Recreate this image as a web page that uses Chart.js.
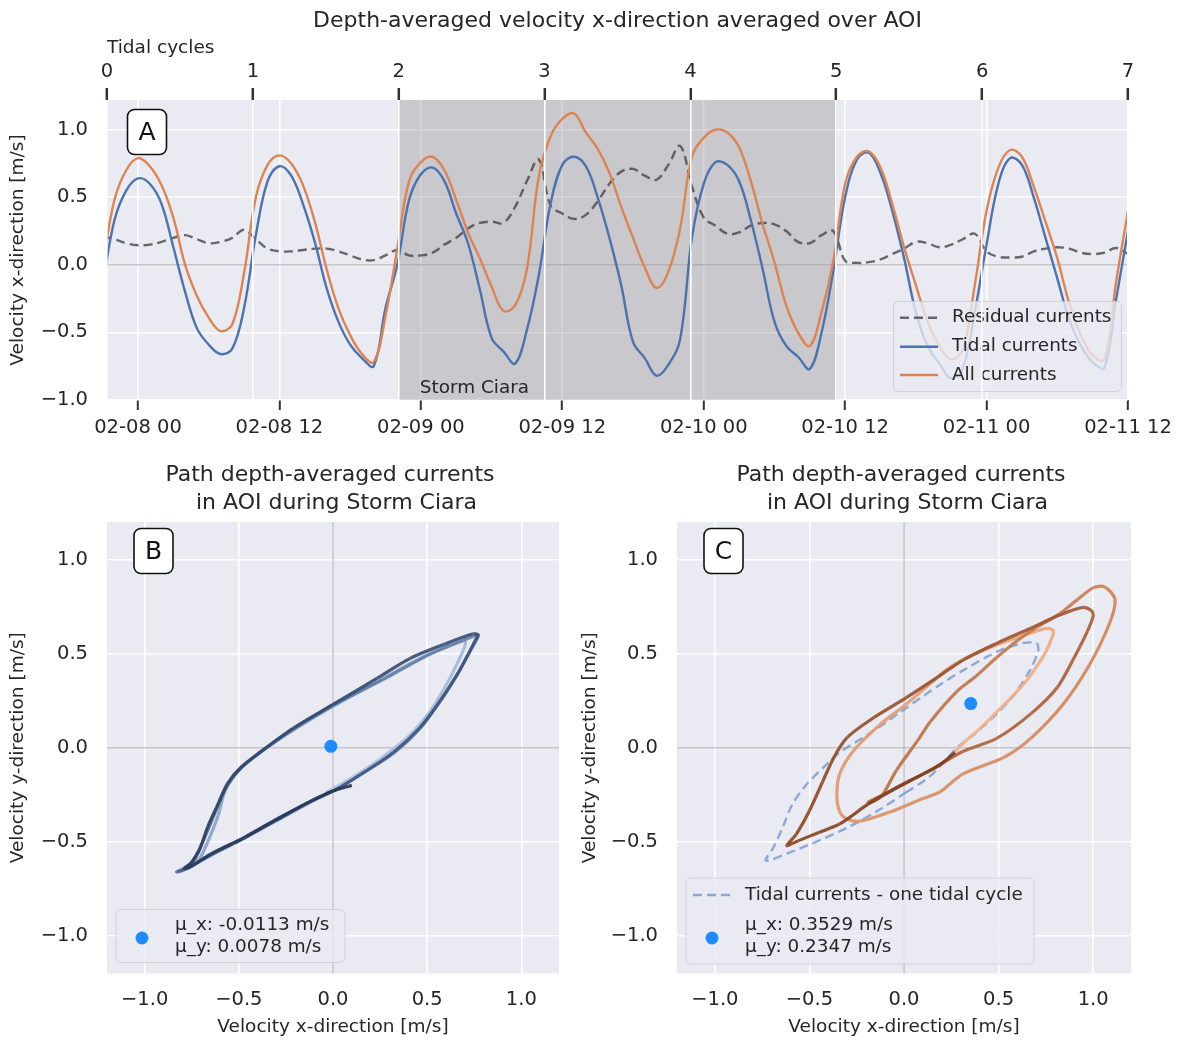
<!DOCTYPE html>
<html>
<head>
<meta charset="utf-8">
<script src="https://cdn.jsdelivr.net/npm/chart.js@4.4.0/dist/chart.umd.min.js"></script>
<style>
  html, body { margin: 0; padding: 0; background: #fff; }
  body { width: 1185px; height: 1041px; position: relative; overflow: hidden; }
  canvas { position: absolute; }
</style>
</head>
<body>
<canvas id="chartA" width="1185" height="445" style="left:0px;top:0px"></canvas>
<canvas id="chartB" width="590" height="591" style="left:0px;top:450px"></canvas>
<canvas id="chartC" width="615" height="591" style="left:570px;top:450px"></canvas>
<script>
// ---- panel A: hours since 02-08 00, one value per hour ----
const hours = [-3, -2, -1, 0, 1, 2, 3, 4, 5, 6, 7, 8, 9, 10, 11, 12, 13, 14, 15, 16, 17, 18, 19, 20,
  21, 22, 23, 24, 25, 26, 27, 28, 29, 30, 31, 32, 33, 34, 35, 36, 37, 38, 39, 40, 41, 42, 43, 44,
  45, 46, 47, 48, 49, 50, 51, 52, 53, 54, 55, 56, 57, 58, 59, 60, 61, 62, 63, 64, 65, 66, 67, 68,
  69, 70, 71, 72, 73, 74, 75, 76, 77, 78, 79, 80, 81, 82, 83, 84];

const tidal = [-0.15, 0.33, 0.55, 0.64, 0.60, 0.45, 0.13, -0.20, -0.47, -0.59, -0.66, -0.62, -0.32, 0.22,
  0.62, 0.73, 0.66, 0.45, 0.17, -0.17, -0.42, -0.59, -0.69, -0.75, -0.32, 0.00, 0.48, 0.67, 0.72, 0.62,
  0.38, 0.16, -0.18, -0.54, -0.64, -0.73, -0.48, -0.08, 0.45, 0.74, 0.80, 0.73, 0.50, 0.20, -0.15, -0.57,
  -0.69, -0.82, -0.74, -0.55, 0.20, 0.60, 0.76, 0.74, 0.62, 0.33, -0.03, -0.42, -0.60, -0.68, -0.77, -0.50,
  -0.04, 0.50, 0.78, 0.83, 0.68, 0.40, 0.05, -0.35, -0.60, -0.73, -0.84, -0.76, -0.35, 0.15, 0.60, 0.79,
  0.74, 0.50, 0.20, -0.10, -0.40, -0.60, -0.72, -0.76, -0.25, 0.25];

const allCurrents = [0.00, 0.48, 0.70, 0.79, 0.73, 0.59, 0.35, 0.00, -0.23, -0.39, -0.49, -0.44, -0.06, 0.50,
  0.74, 0.81, 0.75, 0.59, 0.32, -0.03, -0.32, -0.52, -0.66, -0.72, -0.38, 0.12, 0.62, 0.76, 0.80, 0.70,
  0.48, 0.24, 0.05, -0.16, -0.34, -0.30, -0.03, 0.65, 0.95, 1.08, 1.12, 0.98, 0.86, 0.68, 0.43, 0.20,
  -0.02, -0.17, -0.05, 0.27, 0.80, 0.94, 1.00, 0.98, 0.87, 0.62, 0.30, 0.02, -0.30, -0.50, -0.60, -0.35,
  0.03, 0.60, 0.80, 0.84, 0.72, 0.45, 0.13, -0.15, -0.42, -0.60, -0.70, -0.62, -0.15, 0.40, 0.72, 0.85,
  0.80, 0.58, 0.32, 0.05, -0.28, -0.52, -0.67, -0.70, -0.12, 0.40];

const residual = [0.21, 0.19, 0.16, 0.145, 0.15, 0.17, 0.20, 0.22, 0.19, 0.16, 0.17, 0.20, 0.26, 0.19,
  0.12, 0.10, 0.10, 0.11, 0.12, 0.12, 0.10, 0.07, 0.04, 0.035, 0.07, 0.11, 0.07, 0.07, 0.09, 0.15,
  0.20, 0.27, 0.31, 0.32, 0.31, 0.43, 0.62, 0.78, 0.44, 0.38, 0.34, 0.37, 0.47, 0.60, 0.69, 0.71,
  0.66, 0.63, 0.74, 0.88, 0.58, 0.35, 0.29, 0.23, 0.24, 0.29, 0.31, 0.30, 0.25, 0.17, 0.16, 0.22,
  0.25, 0.03, 0.015, 0.02, 0.04, 0.08, 0.12, 0.17, 0.16, 0.13, 0.15, 0.19, 0.23, 0.10, 0.06, 0.055,
  0.06, 0.10, 0.12, 0.13, 0.12, 0.09, 0.08, 0.09, 0.125, 0.08];

const dateTicks = [0, 12, 24, 36, 48, 60, 72, 84];
const stormCycles = [2, 5];
const seriesNames = ['Residual currents', 'Tidal currents', 'All currents'];

// ---- panel B: tidal current path during the storm (x = u, y = v) ----
const bPathX = [-0.04, 0.10, 0.25, 0.40, 0.52, 0.61, 0.67, 0.70, 0.70, 0.63, 0.45, 0.25, 0.00, -0.20, -0.38,
  -0.50, -0.57, -0.61, -0.665, -0.71, -0.76, -0.70, -0.55, -0.40, -0.25, -0.10,
  0.02, 0.15, 0.32, 0.46, 0.57, 0.66, 0.72, 0.76, 0.77, 0.69, 0.50, 0.28, 0.00, -0.20, -0.38, -0.49, -0.56,
  -0.62, -0.67, -0.72, -0.77, -0.83, -0.78, -0.65, -0.47, -0.30, -0.12,
  0.02, 0.15, 0.32, 0.46, 0.57, 0.66, 0.72, 0.755, 0.77, 0.74, 0.59, 0.41, 0.235, 0.00, -0.21, -0.38, -0.49,
  -0.56, -0.62, -0.665, -0.71, -0.75, -0.79, -0.76, -0.65, -0.47, -0.30, -0.12, 0.00, 0.10];
const bPathY = [-0.24, -0.16, -0.06, 0.06, 0.20, 0.35, 0.47, 0.54, 0.57, 0.55, 0.47, 0.36, 0.22, 0.10, -0.02,
  -0.12, -0.22, -0.36, -0.50, -0.59, -0.63, -0.60, -0.52, -0.44, -0.36, -0.28,
  -0.22, -0.14, -0.03, 0.10, 0.25, 0.39, 0.50, 0.57, 0.60, 0.57, 0.49, 0.37, 0.225, 0.105, -0.02, -0.11, -0.20,
  -0.33, -0.45, -0.56, -0.63, -0.66, -0.645, -0.57, -0.48, -0.385, -0.285,
  -0.22, -0.14, -0.025, 0.105, 0.25, 0.39, 0.50, 0.57, 0.60, 0.605, 0.55, 0.475, 0.37, 0.23, 0.105, -0.018, -0.105,
  -0.19, -0.32, -0.42, -0.545, -0.61, -0.64, -0.635, -0.565, -0.476, -0.38, -0.285, -0.23, -0.20];
const bMean = [-0.0113, 0.0078];

// ---- panel C: all-current path during the storm, plus one tidal cycle ----
const cPathX = [0.27, 0.33, 0.40, 0.49, 0.58, 0.65, 0.70, 0.75, 0.78, 0.79, 0.76, 0.70, 0.58, 0.40, 0.23, 0.15,
  0.01, -0.13, -0.27, -0.34, -0.355, -0.34, -0.30, -0.23, -0.07, 0.10, 0.19, 0.31, 0.53, 0.67, 0.84, 0.98,
  1.09, 1.115, 1.06, 1.00, 0.92, 0.82, 0.70, 0.60, 0.49, 0.38, 0.28, 0.14, 0.07, -0.04, -0.11, -0.15, -0.19,
  -0.10, 0.00, 0.14, 0.31, 0.49, 0.67, 0.81, 0.90, 0.97, 1.00, 0.99, 0.94, 0.81, 0.67, 0.49, 0.31, 0.17,
  0.01, -0.16, -0.30, -0.37, -0.43, -0.50, -0.57, -0.62, -0.56, -0.45, -0.34, -0.19, -0.07, 0.10, 0.19, 0.27];
const cPathY = [-0.02, 0.04, 0.10, 0.19, 0.28, 0.36, 0.43, 0.51, 0.58, 0.62, 0.635, 0.62, 0.58, 0.51, 0.42, 0.35,
  0.23, 0.12, -0.02, -0.14, -0.25, -0.34, -0.38, -0.39, -0.34, -0.27, -0.235, -0.14, -0.05, 0.05, 0.23, 0.44,
  0.67, 0.79, 0.855, 0.85, 0.79, 0.71, 0.64, 0.57, 0.48, 0.38, 0.30, 0.14, 0.035, -0.12, -0.245, -0.28, -0.29,
  -0.245, -0.19, -0.12, -0.02, 0.05, 0.18, 0.32, 0.48, 0.62, 0.70, 0.73, 0.745, 0.70, 0.635, 0.555, 0.465, 0.37,
  0.265, 0.16, 0.055, -0.05, -0.18, -0.335, -0.46, -0.52, -0.495, -0.45, -0.405, -0.30, -0.23, -0.14, -0.09, -0.025];
const cTideX = [0.01, 0.14, 0.28, 0.37, 0.49, 0.58, 0.67, 0.71, 0.70, 0.63, 0.49, 0.31, 0.19, 0.01, -0.16,
  -0.34, -0.41, -0.515, -0.59, -0.64, -0.69, -0.73, -0.60, -0.43, -0.29, -0.13, 0.01];
const cTideY = [-0.238, -0.15, 0.00, 0.07, 0.18, 0.28, 0.42, 0.52, 0.556, 0.556, 0.51, 0.41, 0.335, 0.21, 0.09,
  -0.025, -0.09, -0.195, -0.30, -0.42, -0.53, -0.60, -0.555, -0.485, -0.42, -0.33, -0.238];
const cMean = [0.3529, 0.2347];

// ---- styling ----
const FONT = '"DejaVu Sans", sans-serif';
const TEXT = '#262626';
const PLOT_BG = '#EAEAF2';
const BLUE = '#4C72B0';
const ORANGE = '#DD8452';
const RESID = 'rgba(70,70,70,0.8)';
const MEAN_DOT = '#1E8CFF';
const TIDE_DASH = 'rgba(110,145,205,0.75)';
const blueStops = [[172, 194, 226], [112, 142, 186], [62, 86, 126], [34, 50, 80]];
const brownStops = [[243, 180, 142], [216, 138, 94], [172, 98, 58], [122, 58, 24]];

Chart.defaults.font.family = FONT;
Chart.defaults.color = TEXT;

function fmtNum(v) {
  const s = Math.abs(v).toFixed(1);
  return v < -1e-9 ? '\u2212' + s : s;
}
function fmtDate(v) {
  const day = 8 + Math.floor(v / 24);
  const hh = v - (day - 8) * 24;
  return '02-' + String(day).padStart(2, '0') + ' ' + String(hh).padStart(2, '0');
}
function gradColor(stops, t, a) {
  t = Math.max(0, Math.min(1, t));
  const seg = t * (stops.length - 1);
  const i = Math.min(Math.floor(seg), stops.length - 2);
  const f = seg - i;
  const c = stops[i].map((v, k) => Math.round(v + (stops[i + 1][k] - v) * f));
  return 'rgba(' + c[0] + ',' + c[1] + ',' + c[2] + ',' + a + ')';
}
function pairs(xs, ys) {
  return xs.map((x, i) => ({ x: x, y: ys[i] }));
}
function roundBox(ctx, x, y, w, h, r, fill, stroke, lw) {
  ctx.beginPath();
  ctx.roundRect(x, y, w, h, r);
  if (fill) { ctx.fillStyle = fill; ctx.fill(); }
  if (stroke) { ctx.strokeStyle = stroke; ctx.lineWidth = lw; ctx.stroke(); }
}
function text(ctx, s, x, y, size, align) {
  ctx.font = size + 'px ' + FONT;
  ctx.fillStyle = TEXT;
  ctx.textAlign = align || 'left';
  ctx.textBaseline = 'middle';
  ctx.fillText(s, x, y);
}
function letterBox(ctx, letter, x, y) {
  roundBox(ctx, x, y, 39, 45, 7, '#ffffff', '#111111', 1.6);
  ctx.font = '25px ' + FONT;
  ctx.fillStyle = '#111111';
  ctx.textAlign = 'center';
  ctx.textBaseline = 'middle';
  ctx.fillText(letter, x + 19.5, y + 23.5);
}
function legendBox(ctx, x, y, w, h) {
  roundBox(ctx, x, y, w, h, 5, 'rgba(234,234,242,0.8)', 'rgba(204,204,204,0.8)', 1);
}
function plotBackground(chart) {
  const a = chart.chartArea;
  const ctx = chart.ctx;
  ctx.save();
  ctx.fillStyle = PLOT_BG;
  ctx.fillRect(a.left, a.top, a.right - a.left, a.bottom - a.top);
  ctx.restore();
}
function zeroLine(ctx, x0, y0, x1, y1) {
  ctx.beginPath();
  ctx.moveTo(x0, y0);
  ctx.lineTo(x1, y1);
  ctx.strokeStyle = 'rgba(150,150,150,0.55)';
  ctx.lineWidth = 1.5;
  ctx.stroke();
}

const tickFont = { family: FONT, size: 19.5 };
const titleFont = { family: FONT, size: 18.5 };

// ---------------- Panel A ----------------
const decorA = {
  id: 'decorA',
  beforeDraw: plotBackground,
  beforeDatasetsDraw(chart) {
    const ctx = chart.ctx, a = chart.chartArea;
    const x2 = chart.scales.x2, y = chart.scales.y;
    const s0 = x2.getPixelForValue(stormCycles[0]);
    const s1 = x2.getPixelForValue(stormCycles[1]);
    ctx.save();
    ctx.fillStyle = 'rgba(128,128,128,0.32)';
    ctx.fillRect(s0, a.top, s1 - s0, a.bottom - a.top);
    const y0 = y.getPixelForValue(0);
    zeroLine(ctx, a.left, y0, a.right, y0);
    ctx.restore();
  },
  afterDatasetsDraw(chart) {
    const ctx = chart.ctx;
    ctx.save();
    text(ctx, 'Storm Ciara', chart.scales.x.getPixelForValue(24) - 1, 388, 18.4);
    // legend
    legendBox(ctx, 893.5, 301.5, 228, 90);
    const rows = [317.7, 346.7, 375];
    const cols = [RESID, BLUE, ORANGE];
    rows.forEach((ry, i) => {
      ctx.beginPath();
      ctx.setLineDash(i === 0 ? [9, 5] : []);
      ctx.moveTo(900, ry);
      ctx.lineTo(938, ry);
      ctx.strokeStyle = cols[i];
      ctx.lineWidth = 2.4;
      ctx.stroke();
      ctx.setLineDash([]);
      text(ctx, seriesNames[i], 952, ry, 18.4);
    });
    letterBox(ctx, 'A', 127.5, 109.5);
    ctx.restore();
  },
  afterDraw(chart) {
    const ctx = chart.ctx;
    ctx.save();
    text(ctx, 'Depth-averaged velocity x-direction averaged over AOI', 617.5, 21, 22, 'center');
    ctx.restore();
  }
};

const lineTension = 0.38;

new Chart(document.getElementById('chartA'), {
  type: 'line',
  data: {
    labels: hours,
    datasets: [
      { label: seriesNames[0], data: pairs(hours, residual), borderColor: RESID, borderWidth: 2.4,
        borderDash: [9, 5], pointRadius: 0, tension: lineTension, order: 3 },
      { label: seriesNames[1], data: pairs(hours, tidal), borderColor: BLUE, borderWidth: 2.4,
        pointRadius: 0, tension: lineTension, order: 2 },
      { label: seriesNames[2], data: pairs(hours, allCurrents), borderColor: ORANGE, borderWidth: 2.4,
        pointRadius: 0, tension: lineTension, order: 1 }
    ]
  },
  options: {
    responsive: false,
    animation: false,
    events: [],
    layout: { padding: { left: 0, right: 57, top: 0, bottom: 0 } },
    plugins: { legend: { display: false }, tooltip: { enabled: false } },
    scales: {
      x: {
        type: 'linear', position: 'bottom', min: -2.63, max: 84,
        afterBuildTicks: s => { s.ticks = dateTicks.map(v => ({ value: v })); },
        afterFit: s => { s.height = 45; },
        grid: { color: '#ffffff', lineWidth: 1.6, tickLength: 10, tickColor: '#333333', tickWidth: 2 },
        border: { display: false },
        ticks: { font: tickFont, color: TEXT, padding: 6.5, maxRotation: 0, autoSkip: false, callback: fmtDate }
      },
      x2: {
        type: 'linear', position: 'top', min: 0, max: 7,
        afterFit: s => { s.height = 100; },
        grid: { z: 1, color: '#ffffff', lineWidth: 1.6, tickLength: 12, tickColor: '#333333', tickWidth: 2.5 },
        border: { display: false },
        ticks: { stepSize: 1, font: tickFont, color: TEXT, padding: 4.5, maxRotation: 0, autoSkip: false },
        title: { display: true, text: 'Tidal cycles', align: 'start', color: TEXT, font: titleFont,
          padding: { top: 37, bottom: 0 } }
      },
      y: {
        min: -1.0, max: 1.22,
        afterFit: s => { s.width = 107; },
        grid: { color: '#ffffff', lineWidth: 1.6, drawTicks: false },
        border: { display: false },
        ticks: { stepSize: 0.5, includeBounds: false, font: tickFont, color: TEXT, padding: 19, callback: fmtNum },
        title: { display: true, text: 'Velocity x-direction [m/s]', color: TEXT, font: titleFont,
          padding: { top: 7, bottom: 0 } }
      }
    }
  },
  plugins: [decorA]
});

// ---------------- Panels B and C ----------------
function pathScales(yTitlePad) {
  return {
    x: {
      type: 'linear', min: -1.2, max: 1.2,
      afterFit: s => { s.height = 67.5; },
      grid: { color: '#ffffff', lineWidth: 1.6, drawTicks: false },
      border: { display: false },
      ticks: { stepSize: 0.5, includeBounds: false, font: tickFont, color: TEXT, padding: 15, callback: fmtNum },
      title: { display: true, text: 'Velocity x-direction [m/s]', color: TEXT, font: titleFont,
        padding: { top: 0, bottom: 3 } }
    },
    y: {
      type: 'linear', min: -1.2, max: 1.2,
      afterFit: s => { s.width = 107; },
      grid: { color: '#ffffff', lineWidth: 1.6, drawTicks: false },
      border: { display: false },
      ticks: { stepSize: 0.5, includeBounds: false, font: tickFont, color: TEXT, padding: 19, callback: fmtNum },
      title: { display: true, text: 'Velocity y-direction [m/s]', color: TEXT, font: titleFont,
        padding: { top: yTitlePad, bottom: 0 } }
    }
  };
}

function pathDecor(id, letter, legendFn) {
  return {
    id: id,
    beforeDraw: plotBackground,
    beforeDatasetsDraw(chart) {
      const ctx = chart.ctx, a = chart.chartArea;
      const x0 = chart.scales.x.getPixelForValue(0);
      const y0 = chart.scales.y.getPixelForValue(0);
      ctx.save();
      zeroLine(ctx, x0, a.top, x0, a.bottom);
      zeroLine(ctx, a.left, y0, a.right, y0);
      ctx.restore();
    },
    afterDatasetsDraw(chart) {
      const ctx = chart.ctx, a = chart.chartArea;
      ctx.save();
      legendFn(ctx);
      letterBox(ctx, letter, a.left + 27, 78.5);
      ctx.restore();
    },
    afterDraw(chart) {
      const ctx = chart.ctx, a = chart.chartArea;
      const cx = (a.left + a.right) / 2;
      ctx.save();
      text(ctx, 'Path depth-averaged currents', cx - 3, 25, 22, 'center');
      text(ctx, ' in AOI during Storm Ciara', cx, 53, 22, 'center');
      ctx.restore();
    }
  };
}

function meanDataset(mean) {
  return { data: [{ x: mean[0], y: mean[1] }], pointRadius: 6.5, pointHoverRadius: 6.5,
    backgroundColor: MEAN_DOT, borderWidth: 0, showLine: false };
}

function meanLegendRows(ctx, mean) {
  ctx.beginPath();
  ctx.arc(142, 488, 6.5, 0, Math.PI * 2);
  ctx.fillStyle = MEAN_DOT;
  ctx.fill();
  text(ctx, '\u00b5_x: ' + mean[0].toFixed(4) + ' m/s', 175, 475, 18.4);
  text(ctx, '\u00b5_y: ' + mean[1].toFixed(4) + ' m/s', 175, 497, 18.4);
}

new Chart(document.getElementById('chartB'), {
  type: 'scatter',
  data: {
    datasets: [
      meanDataset(bMean),
      { data: pairs(bPathX, bPathY), showLine: true, pointRadius: 0, borderWidth: 3.2, tension: 0.3,
        borderColor: gradColor(blueStops, 0.5, 0.9),
        segment: { borderColor: c => gradColor(blueStops, c.p0DataIndex / (bPathX.length - 1), 0.9) } }
    ]
  },
  options: {
    responsive: false,
    animation: false,
    events: [],
    layout: { padding: { left: 0, right: 31, top: 72, bottom: 0 } },
    plugins: { legend: { display: false }, tooltip: { enabled: false } },
    scales: pathScales(7)
  },
  plugins: [pathDecor('decorB', 'B', ctx => {
    legendBox(ctx, 116, 459.5, 229, 53);
    meanLegendRows(ctx, bMean);
  })]
});

new Chart(document.getElementById('chartC'), {
  type: 'scatter',
  data: {
    datasets: [
      meanDataset(cMean),
      { data: pairs(cPathX, cPathY), showLine: true, pointRadius: 0, borderWidth: 3.2, tension: 0.3,
        borderColor: gradColor(brownStops, 0.5, 0.92),
        segment: { borderColor: c => gradColor(brownStops, c.p0DataIndex / (cPathX.length - 1), 0.92) } },
      { data: pairs(cTideX, cTideY), showLine: true, pointRadius: 0, borderWidth: 2.4, tension: 0.3,
        borderColor: TIDE_DASH, borderDash: [9, 5] }
    ]
  },
  options: {
    responsive: false,
    animation: false,
    events: [],
    layout: { padding: { left: 0, right: 54, top: 72, bottom: 0 } },
    plugins: { legend: { display: false }, tooltip: { enabled: false } },
    scales: pathScales(9)
  },
  plugins: [pathDecor('decorC', 'C', ctx => {
    legendBox(ctx, 116, 428, 348, 86);
    ctx.beginPath();
    ctx.setLineDash([9, 5]);
    ctx.moveTo(123, 445);
    ctx.lineTo(161, 445);
    ctx.strokeStyle = TIDE_DASH;
    ctx.lineWidth = 2.4;
    ctx.stroke();
    ctx.setLineDash([]);
    text(ctx, 'Tidal currents - one tidal cycle', 175, 445, 18.4);
    meanLegendRows(ctx, cMean);
  })]
});
</script>
</body>
</html>
